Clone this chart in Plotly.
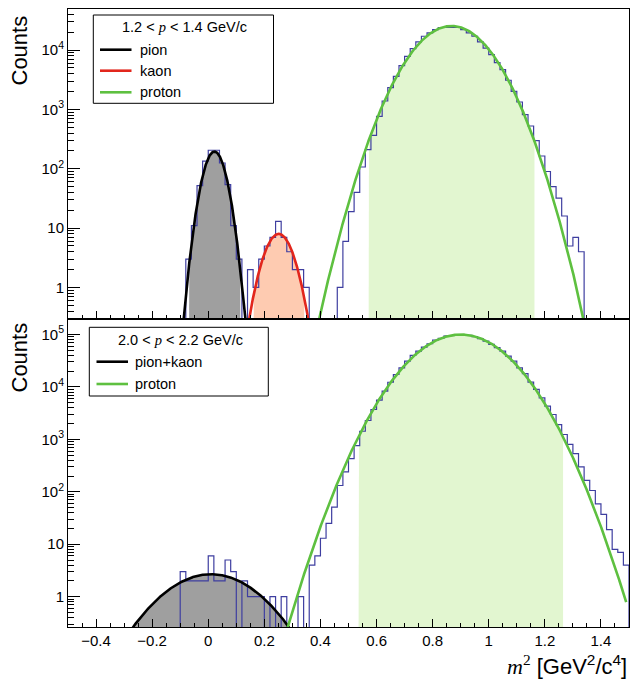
import numpy as np
import plotly.graph_objects as go

# ---------------------------------------------------------------- data
BIN_WIDTH = 0.02
X_RANGE = [-0.5, 1.5]

# m^2 histogram, 1.2 < p < 1.4 GeV/c (bins of 0.02 starting at top_first_edge)
top_first_edge = -0.08
top_counts = [
    3, 11, 52, 135, 205, 205, 125, 54, 11, 3,          # -0.08 .. 0.10
    0, 2, 1, 3, 5, 7, 13, 7, 4, 2,                     # 0.12 .. 0.30
    2, 1, 0, 0, 0, 0, 0, 1, 6, 19,                     # 0.32 .. 0.50
    40, 107, 210, 366, 765, 1385, 2330, 3615, 5470, 7850,          # 0.52 .. 0.70
    10600, 13700, 17100, 19500, 22100, 24000, 24600, 24600, 24000, 22100,  # 0.72 .. 0.90
    19500, 17100, 13700, 10800, 8400, 6150, 4690, 3100, 2020, 1333,        # 0.92 .. 1.10
    817, 525, 298, 164, 90, 50, 32, 16, 5, 7,          # 1.12 .. 1.30
    4,                                                 # 1.32
]

# m^2 histogram, 2.0 < p < 2.2 GeV/c
bottom_first_edge = -0.10
bottom_counts = [
    3, 2, 2, 2, 2, 6, 2, 2, 5, 3,                      # -0.10 .. 0.08
    0, 2, 1, 1, 1, 0, 1, 0, 1, 0,                      # 0.10 .. 0.28
    0, 1, 0, 4, 6, 13, 25, 51, 132, 239,               # 0.30 .. 0.48
    430, 760, 1430, 2290, 3720, 5600, 8300, 12300, 17300, 23200,          # 0.50 .. 0.68
    31200, 40000, 48400, 57700, 66800, 78600, 84600, 93800, 96600, 98000, # 0.70 .. 0.88
    98000, 96600, 91000, 83300, 75100, 65000, 56100, 48400, 38800, 31200, # 0.90 .. 1.08
    23200, 17900, 12400, 8960, 6210, 4300, 2980, 1920, 1240, 800,         # 1.10 .. 1.28
    535, 298, 165, 106, 59, 37, 19, 8, 7, 4,           # 1.30 .. 1.48
]

# Gaussian fits, top panel
top_species = ["pion", "kaon", "proton"]
top_amp = [195.0, 8.0, 25500.0]
top_mean = [0.022, 0.251, 0.867]
top_sigma = [0.0305, 0.041, 0.099]
top_fit_lo = [-0.20, 0.10, 0.30]
top_fit_hi = [0.25, 0.39, 1.45]
top_fill_lo = [-0.070, 0.160, 0.571]
top_fill_hi = [0.114, 0.342, 1.163]
top_line_colors = ["#000000", "#e2261c", "#5ec040"]
top_fill_colors = ["#9f9f9f", "#fecbb1", "#e2f6d0"]

# Gaussian fits, bottom panel
bottom_species = ["pion+kaon", "proton"]
bottom_amp = [2.68, 1.0e5]
bottom_mean = [0.010, 0.900]
bottom_sigma = [0.129, 0.1217]
bottom_fit_lo = [-0.45, 0.20]
bottom_fit_hi = [0.45, 1.49]
bottom_fill_lo = [-0.377, 0.535]
bottom_fill_hi = [0.397, 1.265]
bottom_line_colors = ["#000000", "#5ec040"]
bottom_fill_colors = ["#9f9f9f", "#e2f6d0"]

x_major = [-0.4, -0.2, 0, 0.2, 0.4, 0.6, 0.8, 1, 1.2, 1.4]
x_major_text = ["\u22120.4", "\u22120.2", "0", "0.2", "0.4", "0.6", "0.8", "1", "1.2", "1.4"]
top_decades = [1, 10, 100, 1000, 10000]
bottom_decades = [1, 10, 100, 1000, 10000, 100000]
decade_text = ["1", "10", "10<sup>2</sup>", "10<sup>3</sup>", "10<sup>4</sup>", "10<sup>5</sup>"]

TOP_LOG_RANGE = [-0.523, 4.692]
BOTTOM_LOG_RANGE = [-0.579, 5.306]

# ---------------------------------------------------------------- helpers
W, H = 630, 681
FLOOR = 1e-3          # stand-in for empty bins / curve tails (below the axes)
HIST_COLOR = "rgb(62,62,160)"
SANS = "Liberation Sans, Arial, Helvetica, sans-serif"
SERIF = "Liberation Serif, Times New Roman, serif"


def fx(px):
    return px / W


def fy(py):
    return 1 - py / H


def gauss(x, a, m, s):
    return a * np.exp(-0.5 * ((x - m) / s) ** 2)


def step_xy(first_edge, counts):
    xs, ys = [first_edge], [FLOOR]
    for i, c in enumerate(counts):
        lo = round(first_edge + i * BIN_WIDTH, 4)
        hi = round(lo + BIN_WIDTH, 4)
        v = c if c > 0 else FLOOR
        xs += [lo, hi]
        ys += [v, v]
    xs.append(xs[-1])
    ys.append(FLOOR)
    return xs, ys


def minor_log(decades_lo, decades_hi):
    vals = []
    for d in range(decades_lo, decades_hi + 1):
        for k in range(2, 10):
            vals.append(k * 10.0 ** d)
    return vals


def add_panel(fig, row_axes, first_edge, counts, amp, mean, sigma,
              fit_lo, fit_hi, fill_lo, fill_hi, line_colors, fill_colors):
    xa, ya = row_axes
    # shaded selection windows under each fit
    for a, m, s, lo, hi, fc in zip(amp, mean, sigma, fill_lo, fill_hi, fill_colors):
        xs = np.linspace(lo, hi, 300)
        ys = np.maximum(gauss(xs, a, m, s), FLOOR)
        px = np.concatenate([[lo], xs, [hi]])
        py = np.concatenate([[FLOOR], ys, [FLOOR]])
        fig.add_trace(go.Scatter(x=px, y=py, mode="lines", fill="toself",
                                 fillcolor=fc, line=dict(width=0),
                                 xaxis=xa, yaxis=ya, hoverinfo="skip"))
    # histogram outline
    hx, hy = step_xy(first_edge, counts)
    fig.add_trace(go.Scatter(x=hx, y=hy, mode="lines",
                             line=dict(color=HIST_COLOR, width=1.2),
                             xaxis=xa, yaxis=ya, hoverinfo="skip"))
    # fit curves
    for a, m, s, lo, hi, lc in zip(amp, mean, sigma, fit_lo, fit_hi, line_colors):
        xs = np.linspace(lo, hi, 700)
        ys = np.maximum(gauss(xs, a, m, s), FLOOR)
        fig.add_trace(go.Scatter(x=xs, y=ys, mode="lines",
                                 line=dict(color=lc, width=2.6),
                                 xaxis=xa, yaxis=ya, hoverinfo="skip"))


fig = go.Figure()
add_panel(fig, ("x", "y"), top_first_edge, top_counts, top_amp, top_mean, top_sigma,
          top_fit_lo, top_fit_hi, top_fill_lo, top_fill_hi,
          top_line_colors, top_fill_colors)
add_panel(fig, ("x2", "y2"), bottom_first_edge, bottom_counts, bottom_amp, bottom_mean,
          bottom_sigma, bottom_fit_lo, bottom_fit_hi, bottom_fill_lo, bottom_fill_hi,
          bottom_line_colors, bottom_fill_colors)

# ---------------------------------------------------------------- axes
x_dom = [fx(68), fx(629)]
top_dom = [fy(318.5), fy(9)]
bottom_dom = [fy(627), fy(318.5)]

tick_font = dict(family=SANS, size=15, color="black")
common_x = dict(range=X_RANGE, domain=x_dom, tickmode="array", tickvals=x_major,
                ticktext=x_major_text, ticks="inside", ticklen=8, tickwidth=1,
                tickcolor="black", minor=dict(ticks="inside", ticklen=4, dtick=0.05,
                                              tick0=0, tickcolor="black", tickwidth=1),
                showline=True, linecolor="black", linewidth=1, mirror=True,
                showgrid=False, zeroline=False, tickfont=tick_font)
common_y = dict(type="log", ticks="inside", ticklen=12, tickwidth=1, tickcolor="black",
                showline=True, linecolor="black", linewidth=1, mirror=True,
                showgrid=False, zeroline=False, tickfont=tick_font, tickmode="array")

fig.update_layout(
    xaxis=dict(common_x, anchor="y", showticklabels=False),
    yaxis=dict(common_y, anchor="x", domain=top_dom, range=TOP_LOG_RANGE,
               tickvals=top_decades, ticktext=decade_text[:len(top_decades)],
               minor=dict(ticks="inside", ticklen=6, tickmode="array",
                          tickvals=minor_log(-1, 4), tickcolor="black", tickwidth=1)),
    xaxis2=dict(common_x, anchor="y2", showticklabels=True),
    yaxis2=dict(common_y, anchor="x2", domain=bottom_dom, range=BOTTOM_LOG_RANGE,
                tickvals=bottom_decades, ticktext=decade_text[:len(bottom_decades)],
                minor=dict(ticks="inside", ticklen=6, tickmode="array",
                           tickvals=minor_log(-1, 5), tickcolor="black", tickwidth=1)),
)

# ---------------------------------------------------------------- legends & titles
shapes = []
annotations = []


def legend_box(x0, y0, x1, y1, header, header_xy, labels, colors, rows_y, line_x, text_x):
    shapes.append(dict(type="rect", xref="paper", yref="paper",
                       x0=fx(x0), x1=fx(x1), y0=fy(y1), y1=fy(y0),
                       line=dict(color="black", width=1), fillcolor="white", layer="above"))
    annotations.append(dict(xref="paper", yref="paper", x=fx(header_xy[0]), y=fy(header_xy[1]),
                            xanchor="center", yanchor="middle", showarrow=False, text=header,
                            font=dict(family=SANS, size=14.5, color="black")))
    for lab, col, ry in zip(labels, colors, rows_y):
        shapes.append(dict(type="line", xref="paper", yref="paper",
                           x0=fx(line_x[0]), x1=fx(line_x[1]), y0=fy(ry), y1=fy(ry),
                           line=dict(color=col, width=2.6), layer="above"))
        annotations.append(dict(xref="paper", yref="paper", x=fx(text_x), y=fy(ry),
                                xanchor="left", yanchor="middle", showarrow=False, text=lab,
                                font=dict(family=SANS, size=14.5, color="black")))


p_italic = '<span style="font-family:Liberation Serif"><i>p</i></span>'
legend_box(93.3, 15, 273.5, 103.3, "1.2 &lt; " + p_italic + " &lt; 1.4 GeV/c", (184, 27.5),
           top_species, top_line_colors, [49.7, 70.7, 92.3], (100, 131.5), 137.5)
legend_box(89.3, 327.3, 268.3, 396, "2.0 &lt; " + p_italic + " &lt; 2.2 GeV/c", (180, 339.5),
           bottom_species, bottom_line_colors, [361.7, 384], (96.5, 128), 132.5)

for cy in (50.5, 357.5):
    annotations.append(dict(xref="paper", yref="paper", x=fx(19), y=fy(cy),
                            xanchor="center", yanchor="middle", showarrow=False,
                            text="Counts", textangle=-90,
                            font=dict(family=SANS, size=22, color="black")))

annotations.append(dict(xref="paper", yref="paper", x=fx(628.5), y=fy(665),
                        xanchor="right", yanchor="middle", showarrow=False,
                        text='<span style="font-family:Liberation Serif"><i>m</i><sup>2</sup></span>'
                             ' [GeV<sup>2</sup>/c<sup>4</sup>]',
                        font=dict(family=SANS, size=22, color="black")))

fig.update_layout(width=W, height=H, margin=dict(l=0, r=0, t=0, b=0),
                  paper_bgcolor="white", plot_bgcolor="white", showlegend=False,
                  shapes=shapes, annotations=annotations)

fig.write_html("out.html")
